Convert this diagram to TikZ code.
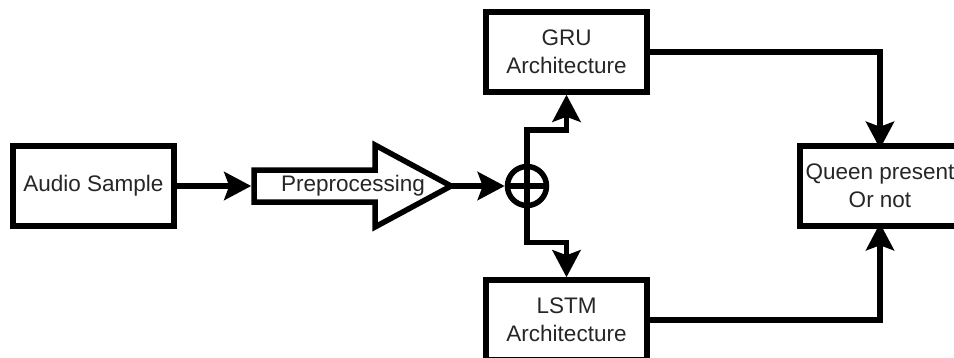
\documentclass[tikz,border=0pt]{standalone}
\usepackage{fontspec}
\setmainfont{Liberation Sans}
\usetikzlibrary{arrows.meta}

\definecolor{txt}{HTML}{262626}

\tikzset{
  blk/.style={draw=black, line width=5.5pt, fill=white, rectangle,
    minimum width=161pt, minimum height=80pt, inner sep=0pt,
    align=center, text=txt, font=\fontsize{22.5}{28}\selectfont},
  lbl/.style={inner sep=0pt, align=center, text=txt,
    font=\fontsize{22.5}{28}\selectfont},
  arr/.style={draw=black, line width=5.5pt,
    -{Stealth[length=27pt,width=28pt,inset=5pt]}},
  wire/.style={draw=black, line width=5.5pt}
}

\begin{document}
\begin{tikzpicture}[x=1pt, y=-1pt]
  \useasboundingbox (0,0) rectangle (954,357);
  \clip (0,0) rectangle (954,357);

  % input and classifier boxes
  \node[blk] (audio) at (93.5,186) {Audio Sample};
  \node[blk] (gru)   at (566.5,52) {GRU\\Architecture};
  \node[blk] (lstm)  at (566.5,320) {LSTM\\Architecture};

  % output box: it runs off the right edge, so only three sides are stroked
  \node[blk, draw=none, outer sep=0pt, minimum width=160pt] (queen)
    at (880,186) {Queen present\\Or not};
  \draw[wire, line join=miter]
    ([xshift=30pt]queen.north east) -- (queen.north west)
    -- (queen.south west) -- ([xshift=30pt]queen.south east);
  \coordinate (qin)  at ([yshift=-2.75pt]queen.north);
  \coordinate (qin2) at ([yshift=2.75pt]queen.south);

  % preprocessing block drawn as a block arrow
  \draw[wire, fill=white, line join=miter]
    (254,170) -- (375,170) -- (375,145) -- (451,186)
    -- (375,227) -- (375,202) -- (254,202) -- cycle;
  \coordinate (prepin)  at (251.25,186);
  \coordinate (prepout) at (451,186);
  \node[lbl] (prep) at (353,186) {Preprocessing};

  % summing junction
  \node[circle, draw=black, line width=5.5pt, minimum size=39pt,
        inner sep=0pt] (sum) at (527,186) {};
  \draw[wire] (sum.north) -- (sum.south);
  \draw[wire] (sum.west) -- (sum.east);

  % connectors
  \draw[arr] (audio.east) -- (prepin);
  \draw[arr] (prepout) -- (sum.west);
  \draw[arr] (sum.north) -- ++(0,-34) -| (gru.south);
  \draw[arr] (sum.south) -- ++(0,34) -| (lstm.north);
  \draw[arr] (gru.east) -| (qin);
  \draw[arr] (lstm.east) -| (qin2);
\end{tikzpicture}
\end{document}
